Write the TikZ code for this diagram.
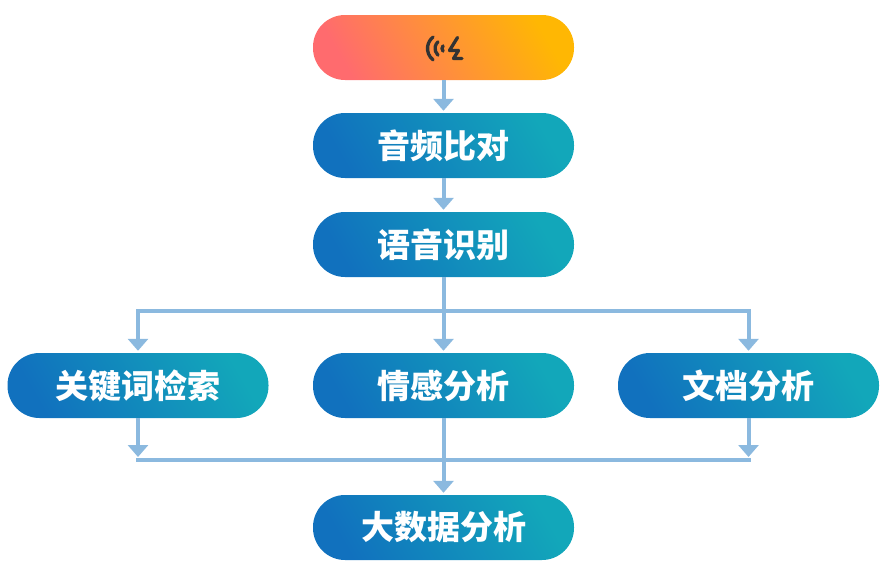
\documentclass[tikz,border=0pt]{standalone}
\usepackage{fontspec}
\newfontfamily\cjk{Noto Sans CJK SC}
\usetikzlibrary{arrows.meta}
\definecolor{bdark}{HTML}{1171BE}
\definecolor{blight}{HTML}{12A7BA}
\definecolor{rred}{HTML}{FF6B6E}
\definecolor{ryel}{HTML}{FFB703}
\definecolor{conncol}{HTML}{8BB9DF}
\definecolor{icon}{HTML}{333333}
\tikzset{
  pill/.style={rounded corners=32pt, minimum width=261pt, minimum height=65pt,
    inner sep=0pt, text=white, font=\cjk\bfseries\fontsize{33}{34}\selectfont},
  bluepill/.style={pill, top color=blight, bottom color=bdark, shading angle=-60},
  redpill/.style={pill, top color=ryel, bottom color=rred, shading angle=-60},
  conn/.style={draw=conncol, line width=4pt, -{Triangle[width=20pt,length=12pt]}, shorten >=2pt},
  plainconn/.style={draw=conncol, line width=4pt},
  iconline/.style={draw=icon, line width=3.3pt, line cap=round, line join=round}
}
\begin{document}
\begin{tikzpicture}[x=1pt,y=-1pt]
\useasboundingbox (0,0) rectangle (890,573);
\node[redpill] (n1) at (443.5,47.5) {};
\node[bluepill] (n2) at (443.5,145.5) {音频比对};
\node[bluepill] (n3) at (443.5,244.5) {语音识别};
\node[bluepill] (n4a) at (138,385.5) {关键词检索};
\node[bluepill] (n4b) at (443.5,385.5) {情感分析};
\node[bluepill] (n4c) at (748.5,385.5) {文档分析};
\node[bluepill] (n5) at (443.5,527.5) {大数据分析};
% icon
\draw[iconline] (442,48.5) ++(128:14.5) arc[start angle=128,end angle=232,radius=14.5];
\draw[iconline] (444,48.5) ++(132:9) arc[start angle=132,end angle=228,radius=9];
\draw[iconline] (446,48.5) ++(138:4) arc[start angle=138,end angle=222,radius=4];
\draw[iconline] (457.5,37.5) -- (449.5,50.5) -- (458.5,50.5) -- (453.5,58.5) -- (462,58.5);
% connectors
\coordinate (j1) at (443.5,311);
\coordinate (j2a) at (138,460);
\coordinate (j2c) at (748.5,460);
\draw[conn] (n1.south) -- (n2.north);
\draw[conn] (n2.south) -- (n3.north);
\draw[conn] (n3.south) -- (n4b.north);
\draw[conn] (j1) -| (n4a.north);
\draw[conn] (j1) -| (n4c.north);
\draw[plainconn, line cap=rect] (j2a) -- (j2c);
\draw[conn, shorten >=3pt] (n4a.south) -- (j2a);
\draw[conn, shorten >=3pt] (n4c.south) -- (j2c);
\draw[conn] (n4b.south) -- (n5.north);
\end{tikzpicture}
\end{document}
